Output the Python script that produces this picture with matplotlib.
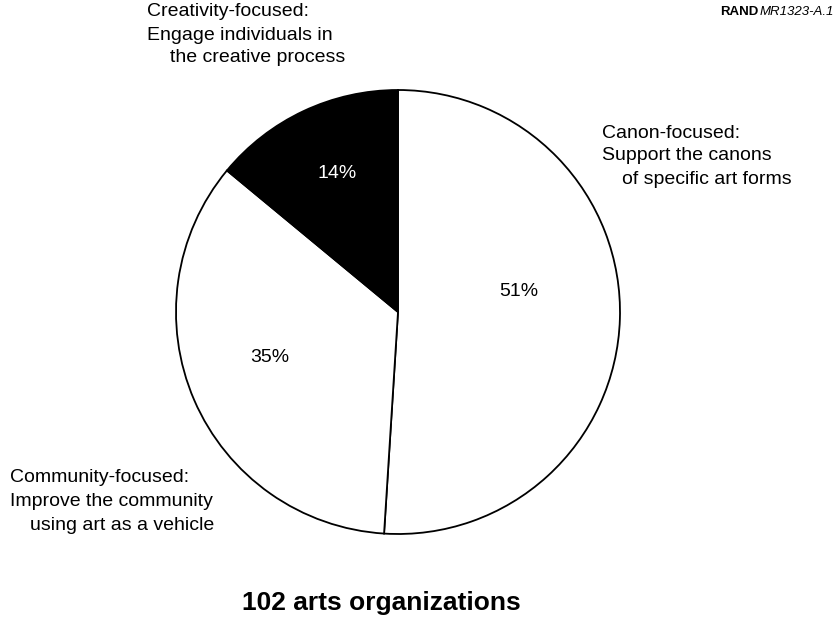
import matplotlib
matplotlib.use("Agg")
import matplotlib.pyplot as plt

# Share of organizations by focus (clockwise from 12 o'clock)
categories = ["Canon-focused", "Community-focused", "Creativity-focused"]
shares = [51, 35, 14]
colors = ["white", "white", "black"]
pct_colors = ["black", "black", "white"]

W, H = 833, 624
plt.rcParams["font.family"] = ["Liberation Sans", "DejaVu Sans"]

fig = plt.figure(figsize=(W / 100, H / 100), dpi=100)
ax = fig.add_axes([0, 0, 1, 1])

cx, cy, r = 398, H - 312, 222
ax.pie(shares, startangle=90, counterclock=False, colors=colors,
       center=(cx, cy), radius=r,
       wedgeprops=dict(edgecolor="black", linewidth=1.3))

ax.set_xlim(0, W)
ax.set_ylim(0, H)
ax.set_aspect("equal")
ax.axis("off")

def px(x, y):
    return x, H - y

FS = 14

# percentage labels inside the wedges
pct_pos = [(519, 292), (270, 358), (337, 173)]
for v, (x, y), c in zip(shares, pct_pos, pct_colors):
    ax.text(*px(x, y), f"{v}%", ha="center", va="center", fontsize=FS, color=c)

# category descriptions, one line at a time
lines = [
    (602, 133, "Canon-focused:"),
    (602, 156, "Support the canons"),
    (622, 179, "of specific art forms"),
    (147, 12, "Creativity-focused:"),
    (147, 35, "Engage individuals in"),
    (170, 57, "the creative process"),
    (10, 477, "Community-focused:"),
    (10, 501, "Improve the community"),
    (30, 525, "using art as a vehicle"),
]
for x, y, s in lines:
    ax.text(*px(x, y), s, ha="left", va="center", fontsize=FS)

ax.text(*px(242, 610), "102 arts organizations", ha="left", va="baseline",
        fontsize=19, fontweight="bold")

ax.text(*px(720, 12), "RAND", ha="left", va="center", fontsize=9.5,
        fontweight="bold")
ax.text(*px(760, 12), "MR1323-A.1", ha="left", va="center", fontsize=9.5,
        style="italic")

fig.savefig("out.png", dpi=100, facecolor="white")
